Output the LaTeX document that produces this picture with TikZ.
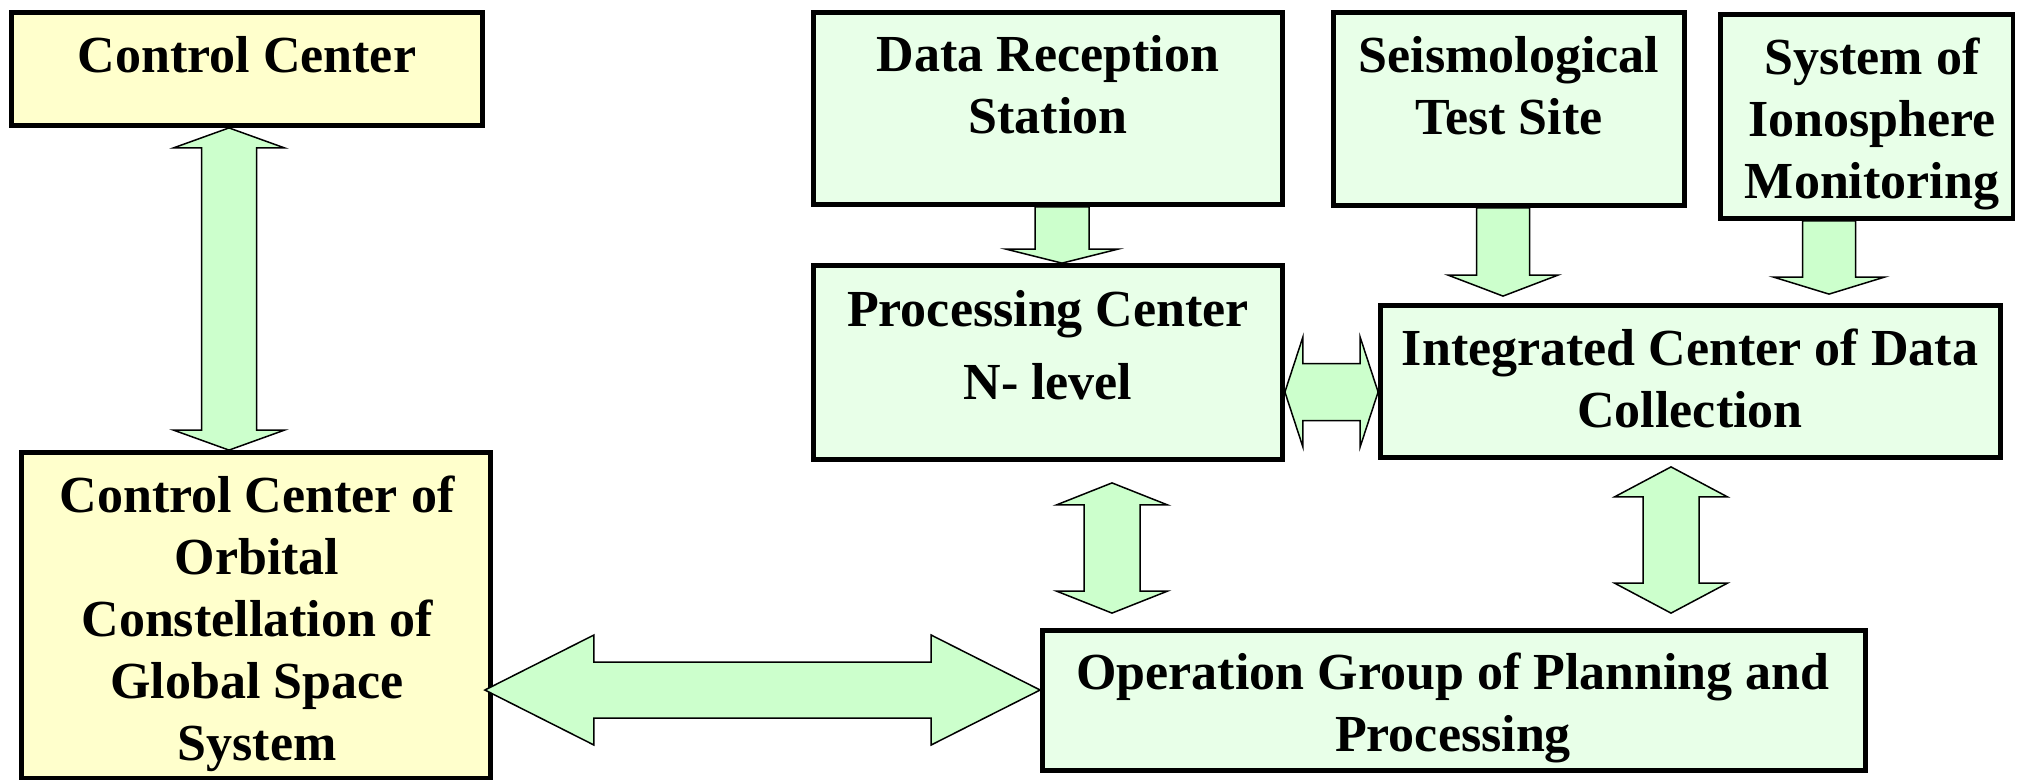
\documentclass[tikz,border=0pt]{standalone}
\usepackage{fontspec}
\setmainfont{Liberation Serif}
\usetikzlibrary{calc,fit}
\definecolor{boxyellow}{HTML}{FFFFCC}
\definecolor{boxgreen}{HTML}{E8FFE8}
\definecolor{arrowgreen}{HTML}{CCFFCC}
\tikzset{
  ybox/.style={draw=black, line width=2.4pt, fill=boxyellow, inner sep=0pt},
  gbox/.style={draw=black, line width=2.4pt, fill=boxgreen, inner sep=0pt},
  lbl/.style={font=\fontsize{26}{31}\selectfont\bfseries, align=center, inner sep=0pt},
  blockarrow/.style={draw=black, line width=0.75pt, fill=arrowgreen, line join=miter},
}
% vertical double block arrow: top tip, bottom tip, half shaft, half head, head length
\newcommand\blkVD[5]{%
  \draw[blockarrow] let \p1=(#1), \p2=(#2) in
   (\x1,\y1) -- (\x1+#4,\y1-#5) -- (\x1+#3,\y1-#5) -- (\x1+#3,\y2+#5) -- (\x1+#4,\y2+#5)
   -- (\x1,\y2) -- (\x1-#4,\y2+#5) -- (\x1-#3,\y2+#5) -- (\x1-#3,\y1-#5) -- (\x1-#4,\y1-#5) -- cycle;}
% horizontal double block arrow: left tip, right tip, half shaft, half head, head length
\newcommand\blkHD[5]{%
  \draw[blockarrow] let \p1=(#1), \p2=(#2) in
   (\x1,\y1) -- (\x1+#5,\y1+#4) -- (\x1+#5,\y1+#3) -- (\x2-#5,\y1+#3) -- (\x2-#5,\y1+#4)
   -- (\x2,\y1) -- (\x2-#5,\y1-#4) -- (\x2-#5,\y1-#3) -- (\x1+#5,\y1-#3) -- (\x1+#5,\y1-#4) -- cycle;}
% downward block arrow: shaft start, tip, half shaft, half head, head length
\newcommand\blkDN[5]{%
  \draw[blockarrow] let \p1=(#1), \p2=(#2) in
   (\x2,\y2) -- (\x2+#4,\y2+#5) -- (\x2+#3,\y2+#5) -- (\x2+#3,\y1) -- (\x2-#3,\y1)
   -- (\x2-#3,\y2+#5) -- (\x2-#4,\y2+#5) -- cycle;}
\begin{document}
\begin{tikzpicture}[x=0.5pt,y=-0.5pt]
\useasboundingbox (0,0) rectangle (2018,782);
\fill[white] (0,0) rectangle (2018,782);

% boxes
\node[ybox, fit={(11.5,12.5) (482.5,125.5)}] (cc) {};
\node[ybox, fit={(21.5,452.5) (490.5,778)}] (cco) {};
\node[gbox, fit={(813.5,12.5) (1282.5,204.5)}] (drs) {};
\node[gbox, fit={(813.5,265.5) (1282.5,459.5)}] (pc) {};
\node[gbox, fit={(1333.5,12.5) (1684.5,205.5)}] (seis) {};
\node[gbox, fit={(1720.5,14.5) (2013,218.5)}] (iono) {};
\node[gbox, fit={(1380.5,305.5) (2000.5,457.5)}] (icdc) {};
\node[gbox, fit={(1042.5,630.5) (1865.5,770.5)}] (opg) {};

% texts
\node[lbl] (cc-t) at (247,55) {Control Center};
\node[lbl] (cco-t) at (257,624) {Control Center of\\Orbital\\Constellation of\\Global Space\\System};
\node[lbl] (drs-t) at (1048,85) {Data Reception\\Station};
\node[lbl] (pc-t) at (1048,345) {Processing Center\\[5.5pt]N- level};
\node[lbl] (seis-t) at (1509,86) {Seismological\\Test Site};
\node[lbl] (iono-t) at (1872,124) {System of\\Ionosphere\\Monitoring};
\node[lbl] (icdc-t) at (1690,378) {Integrated Center of Data\\Collection};
\node[lbl] (opg-t) at (1453,708) {Operation Group of Planning and\\Processing};

% arrow axes
\coordinate (a1x) at (229,0);
\coordinate (a2y) at (0,690);
\coordinate (a3x) at (1062,0);
\coordinate (a4x) at (1503,0);
\coordinate (a5x) at (1829,0);
\coordinate (a6y) at (0,392);
\coordinate (a7x) at (1112,0);
\coordinate (a8x) at (1671,0);

\coordinate (a2l) at ($(cco.east |- a2y)+(-8,0)$);
\coordinate (a4t) at ($(icdc.north -| a4x)+(0,-7)$);
\coordinate (a5t) at ($(icdc.north -| a5x)+(0,-9)$);
\coordinate (a7t) at ($(pc.south -| a7x)+(0,21)$);
\coordinate (a7b) at ($(opg.north -| a7x)+(0,-15)$);
\coordinate (a8t) at ($(icdc.south -| a8x)+(0,7)$);
\coordinate (a8b) at ($(opg.north -| a8x)+(0,-15)$);

% arrows
\blkVD{cc.south -| a1x}{cco.north -| a1x}{13.75pt}{27.75pt}{10pt}
\blkHD{a2l}{opg.west |- a2y}{14pt}{27.5pt}{54.5pt}
\blkDN{drs.south -| a3x}{pc.north -| a3x}{13.5pt}{28pt}{7pt}
\blkDN{seis.south -| a4x}{a4t}{13.25pt}{27.5pt}{10.5pt}
\blkDN{iono.south -| a5x}{a5t}{13.25pt}{27.75pt}{8.5pt}
\blkHD{pc.east |- a6y}{icdc.west |- a6y}{14.25pt}{27.5pt}{9pt}
\blkVD{a7t}{a7b}{14pt}{27.75pt}{11pt}
\blkVD{a8t}{a8b}{14pt}{28.25pt}{15pt}
\end{tikzpicture}
\end{document}
